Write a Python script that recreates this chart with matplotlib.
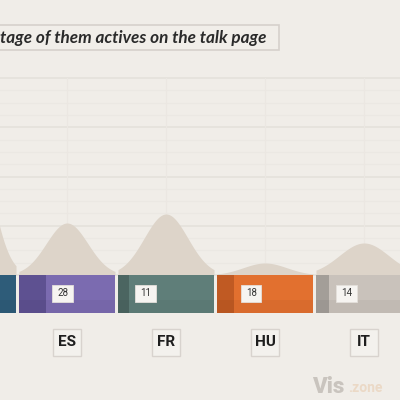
import matplotlib
matplotlib.use("Agg")
import matplotlib.pyplot as plt
from matplotlib.patches import Rectangle
import numpy as np

# data
countries = ["ES", "FR", "HU", "IT"]
active_pct = [28, 11, 18, 14]          # share of them active on the talk page
peak_height = [52, 61, 12, 32]          # height of the density bump above each bar
spread = [0.21, 0.22, 0.22, 0.25]       # width of the bump, in category units
bar_colors = ["#7b6bb0", "#5f7e79", "#e2702f", "#c9c2bb"]
dark_colors = ["#5e5191", "#4b6561", "#c05a23", "#a39e98"]

# the country cut off at the left edge (label out of view)
left_pct = 20
left_peak = 175
left_spread = 0.20
left_color = "#2e5c79"

title = "tage of them actives on the talk page"

BG = "#f0ede8"
DENS = "#ddd4c9"

def px(x):
    # pixel column -> category units
    return (x - 67) / 99.0

fig = plt.figure(figsize=(4, 4), dpi=100)
fig.patch.set_facecolor(BG)
ax = fig.add_axes([0, 0, 1, 1])
ax.set_facecolor(BG)
ax.set_xlim(px(0), px(400))
ax.set_ylim(-125, 275)
ax.axis("off")

xs = np.arange(len(countries))
all_x = np.concatenate([[-1], xs])
all_pct = [left_pct] + active_pct
all_peak = [left_peak] + peak_height
all_spread = [left_spread] + spread
all_col = [left_color] + bar_colors
all_dark = ["#24495f"] + dark_colors

# grid
top = 197
for k, y in enumerate(np.linspace(0, top, 17)):
    major = k % 4 == 0
    ax.plot([px(-10), px(410)], [y, y], color="#e4e0da" if major else "#ebe8e3",
            lw=1.1 if major else 0.8, zorder=0)
for x in all_x:
    ax.plot([x, x], [0, top], color="#ebe7e2", lw=0.9, zorder=0)

# density bumps
bw = 0.97
for x, h, s in zip(all_x, all_peak, all_spread):
    t = np.linspace(x - bw / 2, x + bw / 2, 200)
    d = h * np.exp(-((t - x) ** 2) / (2 * s ** 2))
    ax.fill_between(t, 0, d, color=DENS, lw=0, zorder=1)

# bars
bh = 38
ax.bar(all_x, -bh, bottom=0, width=bw, color=all_col, zorder=2)
ax.bar(all_x - bw / 2, -bh, bottom=0, width=[bw * p / 100 for p in all_pct],
       align="edge", color=all_dark, zorder=3)
# slightly darker lower band
ax.bar(all_x, -(bh - 25), bottom=-25, width=bw, color="black", alpha=0.04,
       lw=0, zorder=4)

# value boxes
for x, p in zip(xs, active_pct):
    x0 = x - bw / 2 + bw * p / 100 + 0.065
    ax.add_patch(Rectangle((x0, -26.5), 0.21, 17, facecolor="#f6f4f1",
                           edgecolor="#e4e0db", lw=0.6, zorder=5))
    ax.text(x0 + 0.105, -18, str(p), ha="center", va="center", fontsize=7,
            color="#333333", family="Roboto", zorder=6)

# country labels
for x, c in zip(xs, countries):
    ax.add_patch(Rectangle((x - 0.145, -80.5), 0.29, 27, facecolor="#f3f1ed",
                           edgecolor="#d8d3ce", lw=1.0, zorder=5))
    ax.text(x, -67, c, ha="center", va="center", fontsize=11, fontweight="bold",
            color="#1e1e1e", family="Roboto", zorder=6)

# title box, cut by the left edge
ax.add_patch(Rectangle((px(-10), 225), px(279) - px(-10), 25, facecolor="#f1eee9",
                       edgecolor="#d6d1cc", lw=1.2, zorder=5))
ax.text(px(0), 237.5, title, ha="left", va="center", fontsize=12.3, fontweight="bold",
        fontstyle="italic", color="#2a2a2a", family="Lato", zorder=6)

# watermark
ax.text(px(312), -112, "Vis", ha="left", va="center", fontsize=16, fontweight="heavy",
        color="#c9c4be", family="Roboto", zorder=6)
ax.text(px(348), -113.5, ".zone", ha="left", va="center", fontsize=10, fontweight="bold",
        color="#ebd9c6", family="Roboto", zorder=6)

fig.savefig("out.png", dpi=100, facecolor=BG)
